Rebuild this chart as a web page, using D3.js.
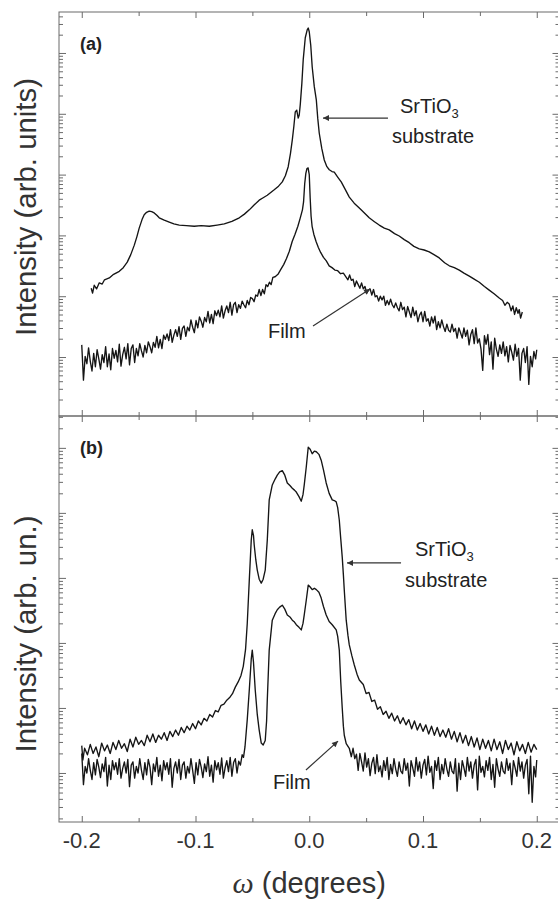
<!DOCTYPE html>
<html><head><meta charset="utf-8">
<script src="https://cdn.jsdelivr.net/npm/d3@7"></script>
<style>body{margin:0;background:#fff} svg{display:block}</style>
</head><body>
<svg id="c" width="558" height="903"></svg>
<script>
// ---------- DATA (omega in degrees, log10 of intensity in arb. units) ----------
const xTickValues = [-0.2, -0.1, 0.0, 0.1, 0.2];
const xTickLabels = ["-0.2", "-0.1", "0.0", "0.1", "0.2"];
const xMinorTicks = [-0.15, -0.05, 0.05, 0.15];
const yMajorTicks = [1e1, 1e2, 1e3, 1e4, 1e5, 1e6];

const aSubstrate = [
[-0.1917,2.13],[-0.1905,2.05],[-0.1890,2.18],[-0.1870,2.12],[-0.1846,2.22],[-0.1820,2.20],[-0.1800,2.27],[-0.1758,2.30],[-0.1720,2.36],[-0.1670,2.41],[-0.1635,2.47],[-0.1600,2.56],[-0.1570,2.68],[-0.1538,2.84],[-0.1515,2.98],[-0.1495,3.12],[-0.1470,3.26],[-0.1451,3.34],[-0.1430,3.38],[-0.1407,3.40],[-0.1385,3.39],[-0.1363,3.37],[-0.1340,3.33],[-0.1319,3.29],[-0.1275,3.25],[-0.1231,3.22],[-0.1190,3.19],[-0.1143,3.17],[-0.1080,3.16],[-0.1011,3.15],[-0.0950,3.16],[-0.0879,3.15],[-0.0810,3.17],[-0.0747,3.19],[-0.0680,3.23],[-0.0615,3.29],[-0.0570,3.35],[-0.0527,3.42],[-0.0485,3.50],[-0.0440,3.58],[-0.0405,3.62],[-0.0369,3.66],[-0.0308,3.75],[-0.0270,3.81],[-0.0237,3.88],[-0.0210,3.98],[-0.0185,4.13],[-0.0165,4.35],[-0.0149,4.57],[-0.0135,4.80],[-0.0123,5.03],[-0.0110,5.06],[-0.0097,4.93],[-0.0088,4.98],[-0.0079,5.15],[-0.0065,5.50],[-0.0053,5.89],[-0.0035,6.25],[-0.0018,6.38],[-0.0009,6.41],[0.0000,6.35],[0.0013,6.13],[0.0026,5.77],[0.0044,5.45],[0.0062,5.23],[0.0075,4.92],[0.0088,4.68],[0.0110,4.43],[0.0132,4.24],[0.0155,4.13],[0.0176,4.08],[0.0200,4.05],[0.0220,4.04],[0.0250,3.96],[0.0281,3.88],[0.0315,3.76],[0.0352,3.63],[0.0395,3.53],[0.0440,3.45],[0.0485,3.37],[0.0527,3.29],[0.0570,3.23],[0.0615,3.17],[0.0660,3.12],[0.0703,3.09],[0.0750,3.03],[0.0791,2.99],[0.0835,2.93],[0.0879,2.88],[0.0920,2.82],[0.0967,2.78],[0.1010,2.76],[0.1055,2.73],[0.1100,2.68],[0.1143,2.63],[0.1190,2.55],[0.1231,2.50],[0.1275,2.47],[0.1319,2.43],[0.1360,2.38],[0.1407,2.33],[0.1450,2.28],[0.1495,2.23],[0.1540,2.16],[0.1582,2.10],[0.1625,2.04],[0.1670,1.97],[0.1700,1.93],[0.1720,1.85],[0.1740,1.90],[0.1758,1.87],[0.1775,1.76],[0.1790,1.84],[0.1805,1.70],[0.1820,1.81],[0.1835,1.72],[0.1846,1.78],[0.1858,1.64],[0.1873,1.74]
];

const aFilm = [
[-0.2000,1.20],[-0.1985,0.62],[-0.1970,1.01],[-0.1955,0.89],[-0.1940,1.15],[-0.1925,0.93],[-0.1910,0.77],[-0.1895,1.06],[-0.1880,0.84],[-0.1865,1.12],[-0.1850,0.97],[-0.1835,0.80],[-0.1820,1.04],[-0.1805,0.91],[-0.1790,1.17],[-0.1775,0.84],[-0.1760,1.05],[-0.1745,0.79],[-0.1730,1.14],[-0.1715,0.98],[-0.1700,1.11],[-0.1685,0.92],[-0.1670,1.21],[-0.1655,0.85],[-0.1640,1.04],[-0.1625,1.16],[-0.1610,0.97],[-0.1595,1.22],[-0.1580,0.87],[-0.1565,1.14],[-0.1550,1.20],[-0.1535,0.91],[-0.1520,1.14],[-0.1505,1.02],
[-0.1490,1.22],[-0.1475,1.10],[-0.1460,1.00],[-0.1445,1.19],[-0.1430,1.07],[-0.1415,1.25],[-0.1400,1.17],[-0.1385,1.07],[-0.1370,1.24],[-0.1355,1.16],[-0.1340,1.34],[-0.1325,1.15],[-0.1310,1.29],[-0.1295,1.14],[-0.1280,1.36],[-0.1265,1.29],[-0.1250,1.38],[-0.1235,1.27],[-0.1220,1.45],[-0.1205,1.24],[-0.1190,1.36],[-0.1175,1.45],[-0.1160,1.34],[-0.1145,1.50],[-0.1130,1.29],[-0.1115,1.47],[-0.1100,1.51],[-0.1085,1.34],[-0.1070,1.49],[-0.1055,1.43],[-0.1040,1.61],[-0.1025,1.49],[-0.1010,1.40],[-0.0995,1.60],[-0.0980,1.48],[-0.0965,1.66],[-0.0950,1.59],[-0.0935,1.49],[-0.0920,1.65],[-0.0905,1.58],[-0.0890,1.75],[-0.0875,1.56],[-0.0860,1.70],[-0.0845,1.55],[-0.0830,1.76],[-0.0815,1.68],[-0.0800,1.77],[-0.0785,1.66],[-0.0770,1.84],[-0.0755,1.64],[-0.0740,1.76],[-0.0725,1.84],[-0.0710,1.73],[-0.0695,1.90],[-0.0680,1.69],[-0.0665,1.86],[-0.0650,1.90],[-0.0635,1.73],[-0.0620,1.86],[-0.0605,1.80],
[-0.0590,1.92],[-0.0575,1.86],[-0.0560,1.81],[-0.0545,1.93],[-0.0530,1.86],[-0.0515,1.98],[-0.0500,1.96],[-0.0485,1.91],[-0.0470,2.02],[-0.0455,2.00],[-0.0440,2.11],[-0.0425,2.01],[-0.0410,2.11],[-0.0395,2.04],[-0.0380,2.19],[-0.0365,2.16],[-0.0350,2.23],[-0.0335,2.19],[-0.0320,2.31],
[-0.0300,2.32],[-0.0275,2.36],[-0.0250,2.44],[-0.0225,2.52],[-0.0200,2.62],[-0.0175,2.74],[-0.0150,2.90],[-0.0125,3.02],[-0.0100,3.15],[-0.0080,3.28],[-0.0060,3.42],[-0.0050,3.55],[-0.0040,3.85],[-0.0030,4.02],[-0.0020,4.10],[-0.0010,4.11],[0.0000,4.00],[0.0008,3.62],[0.0016,3.32],[0.0025,3.15],[0.0040,3.02],[0.0060,2.90],[0.0080,2.80],[0.0100,2.72],[0.0125,2.64],[0.0150,2.58],[0.0175,2.50],[0.0200,2.47],[0.0225,2.43],[0.0250,2.42],[0.0275,2.37],[0.0300,2.38],
[0.0340,2.27],[0.0355,2.35],[0.0370,2.26],[0.0385,2.28],[0.0400,2.16],[0.0415,2.25],[0.0430,2.19],[0.0445,2.13],[0.0460,2.22],[0.0475,2.12],[0.0490,2.16],[0.0505,2.05],[0.0520,2.10],[0.0535,2.12],[0.0550,2.02],[0.0565,2.11],[0.0580,1.99],[0.0595,2.01],[0.0610,1.92],[0.0625,2.00],[0.0640,1.94],[0.0655,2.00],[0.0670,1.85],[0.0685,1.93],[0.0700,1.86],[0.0715,1.95],[0.0730,1.86],[0.0745,1.81],[0.0760,1.89],[0.0775,1.81],
[0.0790,1.76],[0.0805,1.90],[0.0820,1.78],[0.0835,1.82],[0.0850,1.66],[0.0865,1.83],[0.0880,1.74],[0.0895,1.65],[0.0910,1.82],[0.0925,1.68],[0.0940,1.76],[0.0955,1.58],[0.0970,1.69],[0.0985,1.74],[0.1000,1.58],[0.1015,1.75],[0.1030,1.59],[0.1045,1.63],[0.1060,1.51],[0.1075,1.66],[0.1090,1.56],[0.1105,1.67],[0.1120,1.45],[0.1135,1.58],[0.1150,1.48],[0.1165,1.61],[0.1180,1.50],[0.1195,1.42],[0.1210,1.54],[0.1225,1.44],[0.1240,1.41],[0.1255,1.54],[0.1270,1.42],[0.1285,1.47],[0.1300,1.31],[0.1315,1.48],[0.1330,1.40],[0.1345,1.31],[0.1360,1.48],[0.1375,1.34],
[0.1390,1.44],[0.1405,1.20],[0.1420,1.37],[0.1435,1.45],[0.1450,1.22],[0.1465,1.48],[0.1480,1.23],[0.1495,1.30],[0.1510,1.13],[0.1525,0.78],[0.1540,1.35],[0.1555,1.21],[0.1570,1.37],[0.1585,1.04],[0.1600,1.25],[0.1615,0.80],[0.1630,1.31],[0.1645,1.13],[0.1660,1.01],[0.1675,1.20],[0.1690,1.06],[0.1705,1.25],[0.1720,1.02],[0.1735,1.17],[0.1750,0.92],[0.1765,1.19],[0.1780,1.08],[0.1795,0.95],[0.1810,1.21],[0.1825,1.01],[0.1840,1.14],[0.1855,0.62],[0.1870,1.06],[0.1885,1.14],[0.1900,0.91],[0.1915,1.17],[0.1930,0.55],[0.1945,1.01],[0.1960,0.84],[0.1975,1.09],[0.1990,0.97],[0.2000,1.12]
];

const bSubstrate = [
[-0.2000,1.42],[-0.1990,1.20],[-0.1975,1.38],[-0.1950,1.28],[-0.1925,1.44],[-0.1900,1.30],[-0.1875,1.40],[-0.1850,1.25],[-0.1825,1.46],[-0.1800,1.34],[-0.1775,1.43],[-0.1750,1.30],[-0.1725,1.47],[-0.1700,1.36],[-0.1675,1.50],[-0.1650,1.38],[-0.1625,1.45],[-0.1600,1.33],[-0.1575,1.52],[-0.1550,1.40],[-0.1525,1.55],[-0.1500,1.44],[-0.1475,1.50],[-0.1450,1.42],[-0.1425,1.58],[-0.1400,1.48],[-0.1375,1.60],[-0.1350,1.47],[-0.1325,1.58],[-0.1300,1.52],[-0.1275,1.62],[-0.1250,1.50],[-0.1225,1.64],[-0.1200,1.56],[-0.1175,1.66],[-0.1150,1.58],[-0.1125,1.70],[-0.1100,1.62],[-0.1075,1.72],[-0.1050,1.66],[-0.1025,1.76],[-0.1000,1.68],[-0.0975,1.80],[-0.0950,1.74],[-0.0925,1.84],[-0.0900,1.80],[-0.0875,1.90],[-0.0850,1.86],[-0.0825,1.96],[-0.0800,1.94],[-0.0775,2.04],[-0.0750,2.06],[-0.0725,2.12],[-0.0700,2.16],[-0.0675,2.22],[-0.0650,2.32],[-0.0625,2.40],[-0.0600,2.50],[-0.0580,2.64],[-0.0560,2.90],[-0.0545,3.30],[-0.0527,3.97],[-0.0510,4.58],[-0.0501,4.74],[-0.0490,4.65],[-0.0484,4.51],[-0.0470,4.28],[-0.0457,4.12],[-0.0440,3.98],[-0.0422,3.92],[-0.0405,3.98],[-0.0387,4.12],[-0.0369,4.58],[-0.0352,5.20],[-0.0325,5.43],[-0.0300,5.52],[-0.0281,5.58],[-0.0260,5.63],[-0.0237,5.65],[-0.0215,5.58],[-0.0193,5.46],[-0.0170,5.42],[-0.0149,5.38],[-0.0130,5.35],[-0.0114,5.32],[-0.0090,5.25],[-0.0070,5.18],[-0.0055,5.28],[-0.0044,5.43],[-0.0026,5.71],[-0.0009,6.01],[0.0008,5.98],[0.0026,5.91],[0.0045,5.95],[0.0062,5.94],[0.0085,5.90],[0.0105,5.81],[0.0125,5.66],[0.0149,5.46],[0.0175,5.30],[0.0202,5.20],[0.0220,5.19],[0.0237,5.17],[0.0250,5.08],[0.0264,4.89],[0.0277,4.60],[0.0290,4.32],[0.0300,4.05],[0.0308,3.81],[0.0325,3.35],[0.0340,3.12],[0.0352,2.97],[0.0375,2.80],[0.0396,2.66],[0.0420,2.52],[0.0440,2.43],
[0.0475,2.36],[0.0500,2.22],[0.0525,2.24],[0.0550,2.10],[0.0575,2.12],[0.0600,1.98],[0.0625,2.02],[0.0650,1.90],[0.0675,1.95],[0.0700,1.84],[0.0725,1.92],[0.0750,1.80],[0.0775,1.88],[0.0800,1.76],[0.0825,1.85],[0.0850,1.74],[0.0875,1.82],[0.0900,1.68],[0.0925,1.80],[0.0950,1.66],[0.0975,1.76],[0.1000,1.64],[0.1025,1.74],[0.1050,1.60],[0.1075,1.72],[0.1100,1.58],[0.1125,1.70],[0.1150,1.56],[0.1175,1.66],[0.1200,1.55],[0.1225,1.68],[0.1250,1.52],[0.1275,1.64],[0.1300,1.48],[0.1325,1.62],[0.1350,1.46],[0.1375,1.58],[0.1400,1.42],[0.1425,1.56],[0.1450,1.40],[0.1475,1.54],[0.1500,1.36],[0.1525,1.52],[0.1550,1.38],[0.1575,1.50],[0.1600,1.34],[0.1625,1.52],[0.1650,1.36],[0.1675,1.48],[0.1700,1.30],[0.1725,1.50],[0.1750,1.36],[0.1775,1.46],[0.1800,1.28],[0.1825,1.48],[0.1850,1.34],[0.1875,1.44],[0.1900,1.30],[0.1925,1.47],[0.1950,1.32],[0.1975,1.44],[0.2000,1.36]
];

const bFilm = [
[-0.2000,1.30],[-0.1985,0.82],[-0.1970,1.10],[-0.1955,1.00],[-0.1940,1.22],[-0.1925,1.04],[-0.1910,0.90],[-0.1895,1.16],[-0.1880,0.97],[-0.1865,1.21],[-0.1850,1.09],[-0.1835,0.93],[-0.1820,1.14],[-0.1805,1.02],[-0.1790,1.24],[-0.1775,0.80],[-0.1760,1.12],[-0.1745,0.90],[-0.1730,1.19],[-0.1715,1.05],[-0.1700,1.16],[-0.1685,0.98],[-0.1670,1.22],[-0.1655,0.92],[-0.1640,1.07],[-0.1625,1.17],[-0.1610,1.00],[-0.1595,1.21],[-0.1580,0.79],[-0.1565,1.12],[-0.1550,1.17],[-0.1535,0.92],[-0.1520,1.10],[-0.1505,1.00],[-0.1490,1.22],[-0.1475,1.04],[-0.1460,0.90],[-0.1445,1.16],[-0.1430,0.97],[-0.1415,1.21],[-0.1400,1.09],[-0.1385,0.82],[-0.1370,1.14],[-0.1355,1.02],[-0.1340,1.24],[-0.1325,0.95],[-0.1310,1.12],[-0.1295,0.88],[-0.1280,1.19],[-0.1265,1.05],[-0.1250,1.16],[-0.1235,0.98],[-0.1220,1.22],[-0.1205,0.78],[-0.1190,1.07],[-0.1175,1.17],[-0.1160,1.00],[-0.1145,1.21],[-0.1130,0.90],[-0.1115,1.12],[-0.1100,1.17],[-0.1085,0.92],[-0.1070,1.10],[-0.1055,1.00],[-0.1040,1.22],[-0.1025,1.04],[-0.1010,0.84],[-0.0995,1.16],[-0.0980,0.97],[-0.0965,1.21],[-0.0950,1.09],[-0.0935,0.93],[-0.0920,1.14],[-0.0905,1.02],[-0.0890,1.25],[-0.0875,0.95],[-0.0860,1.12],[-0.0845,0.86],[-0.0830,1.19],[-0.0815,1.05],[-0.0800,1.16],[-0.0785,0.98],[-0.0770,1.23],[-0.0755,0.92],[-0.0740,1.08],[-0.0725,1.19],[-0.0710,1.02],[-0.0695,1.24],[-0.0680,0.95],[-0.0665,1.16],[-0.0650,1.22],[-0.0635,1.00],[-0.0620,1.18],[-0.0605,1.12],[-0.0590,1.28],
[-0.0578,1.24],[-0.0565,1.40],[-0.0545,1.82],[-0.0527,2.28],[-0.0510,2.75],[-0.0501,2.89],[-0.0490,2.70],[-0.0475,2.28],[-0.0457,1.90],[-0.0440,1.66],[-0.0422,1.46],[-0.0405,1.43],[-0.0387,1.50],[-0.0375,1.80],[-0.0369,2.12],[-0.0352,2.89],[-0.0325,3.35],[-0.0300,3.45],[-0.0281,3.51],[-0.0260,3.55],[-0.0237,3.58],[-0.0215,3.52],[-0.0193,3.43],[-0.0170,3.40],[-0.0149,3.35],[-0.0130,3.32],[-0.0114,3.28],[-0.0090,3.24],[-0.0070,3.20],[-0.0055,3.30],[-0.0044,3.43],[-0.0026,3.66],[-0.0009,3.89],[0.0008,3.86],[0.0026,3.82],[0.0045,3.84],[0.0062,3.82],[0.0085,3.78],[0.0105,3.69],[0.0125,3.56],[0.0149,3.43],[0.0175,3.33],[0.0202,3.28],[0.0237,3.20],[0.0250,3.10],[0.0264,2.89],[0.0277,2.40],[0.0290,2.00],[0.0300,1.72],[0.0308,1.58],[0.0325,1.45],[0.0352,1.38],
[0.0370,1.25],[0.0385,1.38],[0.0400,1.22],[0.0415,1.29],[0.0430,1.04],[0.0445,1.30],[0.0460,1.17],[0.0475,1.03],[0.0490,1.31],[0.0505,1.09],[0.0520,1.22],[0.0535,0.96],[0.0550,1.15],[0.0565,1.24],[0.0580,0.99],[0.0595,1.28],[0.0610,1.02],[0.0625,1.11],[0.0640,0.94],[0.0655,1.19],[0.0670,1.04],[0.0685,1.24],[0.0700,0.90],[0.0715,1.13],[0.0730,0.99],[0.0745,1.22],[0.0760,1.06],[0.0775,0.95],[0.0790,1.17],[0.0805,1.03],[0.0820,0.99],[0.0835,1.22],[0.0850,1.04],[0.0865,1.15],[0.0880,0.80],[0.0895,1.19],[0.0910,1.08],[0.0925,0.95],[0.0940,1.24],[0.0955,1.03],[0.0970,1.17],[0.0985,0.92],[0.1000,1.12],[0.1015,1.21],[0.1030,0.97],[0.1045,1.26],[0.1060,1.01],[0.1075,1.10],[0.1090,0.76],[0.1105,1.19],[0.1120,1.04],[0.1135,1.24],[0.1150,0.90],[0.1165,1.13],[0.1180,0.99],[0.1195,1.22],[0.1210,1.06],[0.1225,0.95],[0.1240,1.17],[0.1255,1.03],[0.1270,0.99],[0.1285,1.22],[0.1300,0.72],[0.1315,1.15],[0.1330,0.90],[0.1345,1.19],[0.1360,1.08],[0.1375,0.95],[0.1390,1.24],[0.1405,1.03],[0.1420,1.17],[0.1435,0.92],[0.1450,1.12],[0.1465,1.21],[0.1480,0.74],[0.1495,1.26],[0.1510,1.01],[0.1525,1.10],[0.1540,0.94],[0.1555,1.19],[0.1570,1.04],[0.1585,1.24],[0.1600,0.90],[0.1615,1.13],[0.1630,0.78],[0.1645,1.22],[0.1660,1.06],[0.1675,0.95],[0.1690,1.17],[0.1705,1.03],[0.1720,0.99],[0.1735,1.22],[0.1750,1.04],[0.1765,1.15],[0.1780,0.82],[0.1795,1.19],[0.1810,1.08],[0.1825,0.95],[0.1840,1.24],[0.1855,1.03],[0.1870,1.17],[0.1885,0.92],[0.1900,1.12],[0.1915,1.21],[0.1930,0.68],[0.1945,1.26],[0.1960,0.55],[0.1975,1.10],[0.1990,0.94],[0.2000,1.20]
];

// ---------- LAYOUT ----------
const svg = d3.select('#c');
const axisColor = '#6a6a6a';
const lineColor = '#151515';
const sans = '"Liberation Sans", Arial, Helvetica, sans-serif';
const x = d3.scaleLinear().domain([-0.22, 0.22]).range([59, 559.5]);

const panels = [
  { tag: '(a)', top: 12, bottom: 416, logDomain: [0.03, 6.674], series: [aSubstrate, aFilm],
    yLabel: 'Intensity (arb. units)', yLabelCenter: 207, yLabelLength: 258,
    subArrow: { from: [0.0692, 4.93], to: [0.0121, 4.93] },
    subText: { sr: [0.0798, 5.01], sub: [0.0727, 4.52] },
    filmArrow: { from: [0.0033, 1.51], to: [0.0534, 2.12] },
    filmText: [-0.0363, 1.31] },
  { tag: '(b)', top: 416, bottom: 822, logDomain: [0.246, 6.49], series: [bSubstrate, bFilm],
    yLabel: 'Intensity (arb. un.)', yLabelCenter: 634, yLabelLength: 237,
    subArrow: { from: [0.0807, 4.23], to: [0.0332, 4.23] },
    subText: { sr: [0.0930, 4.34], sub: [0.0842, 3.86] },
    filmArrow: { from: [-0.0029, 1.046], to: [0.0253, 1.49] },
    filmText: [-0.0319, 0.754] }
];

const defs = svg.append('defs');
defs.append('marker').attr('id', 'ah').attr('viewBox', '0 0 10 10').attr('refX', 10).attr('refY', 5)
  .attr('markerWidth', 9).attr('markerHeight', 6).attr('markerUnits', 'userSpaceOnUse').attr('orient', 'auto')
  .append('path').attr('d', 'M0,0 L10,5 L0,10 Z').attr('fill', '#333');

panels.forEach(p => {
  const y = d3.scaleLog().domain([10 ** p.logDomain[0], 10 ** p.logDomain[1]]).range([p.bottom, p.top]);
  const isPow10 = v => Math.abs(Math.log10(v) - Math.round(Math.log10(v))) < 1e-6;
  const minors = y.ticks().filter(v => !isPow10(v));
  const g = svg.append('g');
  const [x0, x1] = x.range();

  // ticks (all pointing inward)
  const ax = (gen, tx, ty) => g.append('g').attr('transform', `translate(${tx},${ty})`).attr('color', axisColor)
      .call(gen).call(s => { s.select('.domain').remove(); s.selectAll('line').attr('stroke-width', 1); });
  ax(d3.axisRight(y).tickValues(yMajorTicks).tickSize(7).tickFormat(''), x0, 0);
  ax(d3.axisRight(y).tickValues(minors).tickSize(4).tickFormat(''), x0, 0);
  ax(d3.axisLeft(y).tickValues(yMajorTicks).tickSize(7).tickFormat(''), x1, 0);
  ax(d3.axisLeft(y).tickValues(minors).tickSize(4).tickFormat(''), x1, 0);
  ax(d3.axisBottom(x).tickValues(xTickValues).tickSize(6).tickFormat(''), 0, p.top);
  ax(d3.axisBottom(x).tickValues(xMinorTicks).tickSize(4).tickFormat(''), 0, p.top);
  ax(d3.axisTop(x).tickValues(xTickValues).tickSize(6).tickFormat(''), 0, p.bottom);
  ax(d3.axisTop(x).tickValues(xMinorTicks).tickSize(4).tickFormat(''), 0, p.bottom);

  g.append('rect').attr('x', x0).attr('y', p.top).attr('width', x1 - x0).attr('height', p.bottom - p.top)
    .attr('fill', 'none').attr('stroke', axisColor).attr('stroke-width', 1);

  // curves
  const line = d3.line().x(d => x(d[0])).y(d => y(10 ** d[1]));
  p.series.forEach(s => {
    g.append('path').datum(s).attr('d', line).attr('fill', 'none').attr('stroke', lineColor)
      .attr('stroke-width', 1.35).attr('stroke-linejoin', 'round');
  });

  // panel tag
  g.append('text').attr('x', 80).attr('y', p.top + 38).attr('font-family', sans).attr('font-weight', 'bold')
    .attr('font-size', 18).attr('fill', '#222').text(p.tag);

  // y label (narrow face, fitted to the reference length)
  g.append('text').attr('transform', `translate(36,${p.yLabelCenter}) rotate(-90)`).attr('text-anchor', 'middle')
    .attr('font-family', sans).attr('font-size', 29).attr('fill', '#333')
    .attr('textLength', p.yLabelLength).attr('lengthAdjust', 'spacingAndGlyphs').text(p.yLabel);

  // annotations
  const P = d => [x(d[0]), y(10 ** d[1])];
  const arrow = a => {
    const f = P(a.from), t = P(a.to);
    g.append('line').attr('x1', f[0]).attr('y1', f[1]).attr('x2', t[0]).attr('y2', t[1])
      .attr('stroke', '#333').attr('stroke-width', 1.2).attr('marker-end', 'url(#ah)');
  };
  arrow(p.subArrow);
  arrow(p.filmArrow);
  const sr = P(p.subText.sr);
  const st = g.append('text').attr('x', sr[0]).attr('y', sr[1]).attr('font-family', sans).attr('font-size', 20).attr('fill', '#222');
  st.append('tspan').text('SrTiO');
  st.append('tspan').attr('font-size', 13).attr('dy', 5).text('3');
  const sb = P(p.subText.sub);
  g.append('text').attr('x', sb[0]).attr('y', sb[1]).attr('font-family', sans).attr('font-size', 20).attr('fill', '#222').text('substrate');
  const ft = P(p.filmText);
  g.append('text').attr('x', ft[0]).attr('y', ft[1]).attr('font-family', sans).attr('font-size', 20).attr('fill', '#222').text('Film');
});

// x tick labels
svg.append('g').selectAll('text').data(xTickValues).join('text')
  .attr('x', d => x(d)).attr('y', 848).attr('text-anchor', 'middle')
  .attr('font-family', sans).attr('font-size', 22).attr('fill', '#333')
  .text((d, i) => xTickLabels[i]);

// x title
const xt = svg.append('text').attr('x', x(0)).attr('y', 893).attr('text-anchor', 'middle').attr('fill', '#333');
xt.append('tspan').attr('font-family', '"Liberation Serif", "Times New Roman", serif').attr('font-style', 'italic').attr('font-size', 30).text('ω');
xt.append('tspan').attr('font-family', sans).attr('font-size', 29).text(' (degrees)');
</script>
</body></html>
